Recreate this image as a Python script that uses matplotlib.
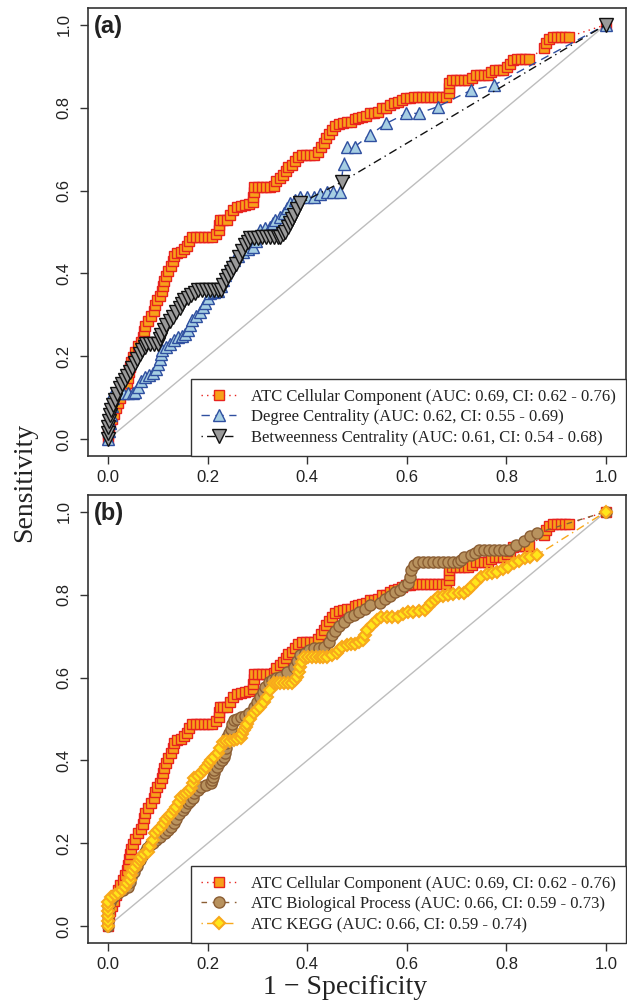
import matplotlib
matplotlib.use("Agg")
import matplotlib.pyplot as plt
import numpy as np
from matplotlib.lines import Line2D

# ROC points (1 - specificity, sensitivity)
cc_points = [
    (0.0, 0.0), (0.0, 0.012), (0.003, 0.025), (0.005, 0.037), (0.008, 0.05), (0.012, 0.062),
    (0.016, 0.075), (0.02, 0.087), (0.025, 0.1), (0.03, 0.112), (0.034, 0.124), (0.038, 0.137),
    (0.041, 0.149), (0.043, 0.162), (0.045, 0.174), (0.047, 0.187), (0.05, 0.199), (0.055, 0.211),
    (0.06, 0.224), (0.066, 0.236), (0.07, 0.248), (0.072, 0.261), (0.075, 0.273), (0.08, 0.286),
    (0.086, 0.298), (0.092, 0.31), (0.095, 0.323), (0.098, 0.335), (0.104, 0.345), (0.108, 0.358),
    (0.11, 0.37), (0.112, 0.382), (0.116, 0.395), (0.121, 0.405), (0.126, 0.418), (0.13, 0.43),
    (0.132, 0.442), (0.138, 0.45), (0.146, 0.452), (0.152, 0.458), (0.158, 0.466), (0.163, 0.478),
    (0.168, 0.489), (0.176, 0.489), (0.184, 0.489), (0.192, 0.489), (0.2, 0.489), (0.208, 0.489),
    (0.216, 0.495), (0.222, 0.505), (0.223, 0.517), (0.224, 0.529), (0.232, 0.529), (0.24, 0.53),
    (0.246, 0.54), (0.252, 0.552), (0.26, 0.561), (0.268, 0.563), (0.276, 0.565), (0.284, 0.567),
    (0.292, 0.573), (0.292, 0.585), (0.293, 0.597), (0.294, 0.609), (0.302, 0.609), (0.31, 0.609),
    (0.318, 0.609), (0.326, 0.609), (0.334, 0.612), (0.337, 0.622), (0.346, 0.629), (0.352, 0.637),
    (0.358, 0.647), (0.362, 0.656), (0.37, 0.662), (0.376, 0.672), (0.382, 0.68), (0.39, 0.686),
    (0.398, 0.686), (0.406, 0.686), (0.414, 0.686), (0.422, 0.694), (0.428, 0.704), (0.434, 0.714),
    (0.438, 0.726), (0.444, 0.736), (0.45, 0.746), (0.455, 0.756), (0.463, 0.76), (0.471, 0.762),
    (0.479, 0.764), (0.487, 0.766), (0.495, 0.772), (0.503, 0.774), (0.511, 0.778), (0.519, 0.78),
    (0.527, 0.786), (0.535, 0.786), (0.543, 0.79), (0.551, 0.798), (0.559, 0.798), (0.567, 0.806),
    (0.575, 0.812), (0.583, 0.814), (0.591, 0.818), (0.599, 0.822), (0.607, 0.824), (0.615, 0.826),
    (0.623, 0.826), (0.631, 0.826), (0.639, 0.826), (0.647, 0.826), (0.655, 0.826), (0.663, 0.826),
    (0.671, 0.826), (0.679, 0.826), (0.685, 0.834), (0.685, 0.846), (0.685, 0.858), (0.69, 0.866),
    (0.698, 0.866), (0.706, 0.866), (0.714, 0.866), (0.722, 0.866), (0.73, 0.872), (0.738, 0.878),
    (0.746, 0.878), (0.754, 0.878), (0.762, 0.878), (0.77, 0.886), (0.778, 0.89), (0.786, 0.89),
    (0.794, 0.89), (0.802, 0.898), (0.808, 0.906), (0.814, 0.914), (0.822, 0.918), (0.83, 0.918),
    (0.838, 0.918), (0.846, 0.918), (0.875, 0.943), (0.88, 0.955), (0.886, 0.965), (0.894, 0.971),
    (0.902, 0.971), (0.91, 0.971), (0.918, 0.971), (0.926, 0.971), (1.0, 1.0),
]

degree_points = [
    (0.0, 0.0), (0.002, 0.02), (0.004, 0.04), (0.006, 0.06), (0.008, 0.08), (0.01, 0.1),
    (0.011, 0.111), (0.02, 0.111), (0.03, 0.111), (0.04, 0.111), (0.05, 0.111), (0.054, 0.115),
    (0.06, 0.127), (0.066, 0.14), (0.074, 0.15), (0.082, 0.155), (0.09, 0.159), (0.097, 0.17),
    (0.1, 0.182), (0.104, 0.193), (0.106, 0.205), (0.108, 0.215), (0.116, 0.222), (0.124, 0.231),
    (0.132, 0.24), (0.14, 0.248), (0.148, 0.25), (0.154, 0.254), (0.16, 0.264), (0.165, 0.276),
    (0.168, 0.288), (0.176, 0.298), (0.184, 0.308), (0.19, 0.318), (0.195, 0.328), (0.2, 0.34),
    (0.204, 0.352), (0.212, 0.355), (0.22, 0.358), (0.226, 0.37), (0.23, 0.384), (0.236, 0.396),
    (0.24, 0.408), (0.246, 0.42), (0.253, 0.433), (0.262, 0.442), (0.272, 0.452), (0.282, 0.458),
    (0.292, 0.465), (0.298, 0.478), (0.302, 0.492), (0.306, 0.505), (0.316, 0.509), (0.326, 0.513),
    (0.331, 0.521), (0.336, 0.529), (0.345, 0.537), (0.353, 0.545), (0.36, 0.557), (0.366, 0.569),
    (0.376, 0.577), (0.386, 0.585), (0.399, 0.585), (0.413, 0.585), (0.426, 0.591), (0.439, 0.597),
    (0.452, 0.597), (0.466, 0.597), (0.473, 0.665), (0.479, 0.706), (0.496, 0.706), (0.526, 0.734),
    (0.559, 0.762), (0.599, 0.786), (0.624, 0.786), (0.662, 0.802), (0.729, 0.842), (0.775, 0.854),
    (1.0, 1.0),
]

betweenness_points = [
    (0.0, 0.0), (0.0, 0.015), (0.001, 0.03), (0.002, 0.045), (0.005, 0.058), (0.007, 0.071),
    (0.011, 0.083), (0.014, 0.095), (0.019, 0.109), (0.024, 0.123), (0.029, 0.133), (0.034, 0.143),
    (0.039, 0.153), (0.044, 0.163), (0.049, 0.173), (0.054, 0.183), (0.059, 0.195), (0.064, 0.207),
    (0.069, 0.215), (0.074, 0.223), (0.077, 0.231), (0.085, 0.231), (0.093, 0.231), (0.1, 0.231),
    (0.104, 0.242), (0.107, 0.252), (0.112, 0.264), (0.117, 0.276), (0.124, 0.286), (0.13, 0.296),
    (0.137, 0.306), (0.144, 0.316), (0.149, 0.326), (0.153, 0.336), (0.16, 0.342), (0.167, 0.348),
    (0.174, 0.354), (0.18, 0.36), (0.188, 0.36), (0.196, 0.36), (0.204, 0.36), (0.212, 0.36),
    (0.22, 0.36), (0.227, 0.36), (0.232, 0.372), (0.237, 0.384), (0.242, 0.394), (0.247, 0.404),
    (0.252, 0.414), (0.257, 0.424), (0.263, 0.44), (0.27, 0.455), (0.276, 0.469), (0.281, 0.477),
    (0.286, 0.485), (0.294, 0.486), (0.302, 0.486), (0.31, 0.487), (0.318, 0.487), (0.326, 0.488),
    (0.334, 0.488), (0.342, 0.489), (0.346, 0.489), (0.351, 0.495), (0.356, 0.501), (0.361, 0.511),
    (0.366, 0.521), (0.37, 0.531), (0.373, 0.541), (0.38, 0.555), (0.386, 0.569), (0.47, 0.621),
    (1.0, 1.0),
]

bp_points = [
    (0.0, 0.0), (0.0, 0.012), (0.001, 0.024), (0.001, 0.036), (0.001, 0.048), (0.004, 0.06),
    (0.01, 0.07), (0.02, 0.08), (0.03, 0.088), (0.041, 0.096), (0.044, 0.108), (0.047, 0.12),
    (0.053, 0.132), (0.058, 0.146), (0.064, 0.16), (0.069, 0.17), (0.074, 0.18), (0.079, 0.188),
    (0.084, 0.196), (0.09, 0.2), (0.097, 0.208), (0.105, 0.215), (0.114, 0.224), (0.12, 0.232),
    (0.127, 0.24), (0.132, 0.25), (0.137, 0.26), (0.143, 0.27), (0.15, 0.28), (0.155, 0.289),
    (0.16, 0.297), (0.165, 0.303), (0.17, 0.309), (0.173, 0.321), (0.18, 0.329), (0.187, 0.337),
    (0.197, 0.341), (0.207, 0.345), (0.208, 0.353), (0.21, 0.361), (0.212, 0.369), (0.213, 0.377),
    (0.218, 0.385), (0.223, 0.393), (0.228, 0.401), (0.233, 0.409), (0.235, 0.419), (0.237, 0.429),
    (0.238, 0.443), (0.24, 0.457), (0.244, 0.467), (0.247, 0.477), (0.25, 0.487), (0.253, 0.497),
    (0.26, 0.501), (0.267, 0.505), (0.275, 0.508), (0.283, 0.515), (0.293, 0.53), (0.3, 0.542),
    (0.306, 0.554), (0.311, 0.566), (0.316, 0.578), (0.323, 0.59), (0.33, 0.594), (0.338, 0.598),
    (0.346, 0.602), (0.36, 0.614), (0.373, 0.626), (0.38, 0.64), (0.386, 0.654), (0.395, 0.66),
    (0.404, 0.666), (0.413, 0.67), (0.423, 0.672), (0.433, 0.674), (0.443, 0.686), (0.449, 0.702),
    (0.456, 0.712), (0.463, 0.723), (0.473, 0.733), (0.483, 0.745), (0.493, 0.75), (0.505, 0.757),
    (0.516, 0.765), (0.527, 0.775), (0.546, 0.78), (0.556, 0.79), (0.566, 0.797), (0.576, 0.805),
    (0.586, 0.811), (0.594, 0.82), (0.602, 0.827), (0.606, 0.843), (0.609, 0.859), (0.614, 0.871),
    (0.622, 0.879), (0.632, 0.879), (0.642, 0.879), (0.652, 0.879), (0.662, 0.879), (0.672, 0.879),
    (0.682, 0.879), (0.692, 0.879), (0.702, 0.879), (0.708, 0.883), (0.715, 0.891), (0.728, 0.895),
    (0.737, 0.901), (0.745, 0.907), (0.755, 0.907), (0.765, 0.907), (0.775, 0.907), (0.785, 0.907),
    (0.795, 0.907), (0.805, 0.907), (0.82, 0.92), (0.835, 0.93), (0.848, 0.94), (0.861, 0.948),
    (1.0, 1.0),
]

kegg_points = [
    (0.0, 0.0), (0.0, 0.012), (0.0, 0.024), (0.0, 0.036), (0.001, 0.048), (0.001, 0.06),
    (0.007, 0.072), (0.014, 0.076), (0.021, 0.08), (0.028, 0.088), (0.034, 0.096), (0.039, 0.104),
    (0.044, 0.112), (0.047, 0.124), (0.05, 0.136), (0.055, 0.144), (0.06, 0.152), (0.064, 0.16),
    (0.067, 0.168), (0.073, 0.174), (0.08, 0.18), (0.085, 0.194), (0.09, 0.208), (0.094, 0.224),
    (0.1, 0.232), (0.107, 0.24), (0.112, 0.25), (0.117, 0.26), (0.122, 0.266), (0.127, 0.272),
    (0.132, 0.28), (0.137, 0.289), (0.142, 0.301), (0.147, 0.313), (0.152, 0.317), (0.157, 0.321),
    (0.162, 0.327), (0.167, 0.333), (0.17, 0.345), (0.173, 0.357), (0.18, 0.363), (0.187, 0.369),
    (0.192, 0.377), (0.197, 0.385), (0.202, 0.393), (0.207, 0.401), (0.213, 0.409), (0.22, 0.417),
    (0.225, 0.431), (0.23, 0.445), (0.238, 0.446), (0.246, 0.448), (0.253, 0.449), (0.26, 0.451),
    (0.267, 0.453), (0.27, 0.463), (0.273, 0.473), (0.277, 0.481), (0.28, 0.489), (0.286, 0.501),
    (0.293, 0.514), (0.3, 0.522), (0.306, 0.53), (0.313, 0.542), (0.32, 0.554), (0.326, 0.57),
    (0.333, 0.586), (0.34, 0.586), (0.346, 0.586), (0.354, 0.586), (0.362, 0.586), (0.37, 0.586),
    (0.375, 0.594), (0.379, 0.602), (0.383, 0.614), (0.386, 0.626), (0.39, 0.638), (0.393, 0.65),
    (0.401, 0.65), (0.409, 0.65), (0.417, 0.65), (0.425, 0.65), (0.432, 0.65), (0.439, 0.65),
    (0.449, 0.654), (0.459, 0.658), (0.463, 0.666), (0.469, 0.674), (0.479, 0.678), (0.488, 0.682),
    (0.496, 0.682), (0.505, 0.686), (0.513, 0.69), (0.516, 0.702), (0.52, 0.714), (0.53, 0.726),
    (0.54, 0.738), (0.549, 0.747), (0.56, 0.747), (0.571, 0.747), (0.582, 0.747), (0.592, 0.753),
    (0.602, 0.759), (0.612, 0.759), (0.624, 0.761), (0.636, 0.763), (0.642, 0.771), (0.649, 0.779),
    (0.656, 0.787), (0.662, 0.795), (0.672, 0.797), (0.682, 0.799), (0.692, 0.801), (0.704, 0.803),
    (0.715, 0.803), (0.722, 0.811), (0.728, 0.819), (0.738, 0.831), (0.749, 0.843), (0.76, 0.849),
    (0.771, 0.853), (0.782, 0.855), (0.793, 0.861), (0.804, 0.867), (0.815, 0.875), (0.826, 0.881),
    (0.837, 0.887), (0.848, 0.891), (0.861, 0.895), (1.0, 1.0),
]

cc_label = "ATC Cellular Component (AUC: 0.69, CI: 0.62 - 0.76)"
degree_label = "Degree Centrality (AUC: 0.62, CI: 0.55 - 0.69)"
betweenness_label = "Betweenness Centrality (AUC: 0.61, CI: 0.54 - 0.68)"
bp_label = "ATC Biological Process (AUC: 0.66, CI: 0.59 - 0.73)"
kegg_label = "ATC KEGG (AUC: 0.66, CI: 0.59 - 0.74)"

ticks = [0.0, 0.2, 0.4, 0.6, 0.8, 1.0]

SERIF = ["Liberation Serif", "DejaVu Serif"]
SANS = ["Liberation Sans", "DejaVu Sans"]

styles = {
    "cc": dict(marker="s", ms=7, mfc="#F7A11A", mec="#E8231E", mew=1.0,
               color="#E8231E", ls=(0, (1, 3)), lw=1.0),
    "degree": dict(marker="^", ms=9, mfc="#A6CEE3", mec="#2F4FA0", mew=1.0,
                   color="#2F4FA0", ls=(0, (6, 4)), lw=1.0),
    "betweenness": dict(marker="v", ms=9.5, mfc="#9A9A9A", mec="#111111", mew=1.0,
                        color="#111111", ls=(0, (1, 3, 6, 3)), lw=1.0),
    "bp": dict(marker="o", ms=8, mfc="#B8925E", mec="#8B5E34", mew=1.0,
               color="#8B5E34", ls=(0, (4, 4)), lw=1.0),
    "kegg": dict(marker="D", ms=6.5, mfc="#FFE61A", mec="#F8A81B", mew=1.5,
                 color="#F8A81B", ls=(0, (1, 3, 6, 3)), lw=1.0),
}


def draw_curve(ax, points, key):
    pts = np.array(points)
    ax.plot(pts[:, 0], pts[:, 1], **styles[key])


def style_axes(ax, tag):
    ax.set_xlim(-0.04, 1.04)
    ax.set_ylim(-0.04, 1.04)
    ax.plot([0, 1], [0, 1], color="#BDBDBD", lw=1.0, zorder=0)
    ax.set_xticks(ticks)
    ax.set_yticks(ticks)
    ax.set_xticklabels([f"{t:.1f}" for t in ticks], family=SANS, fontsize=12, color="#222222")
    ax.set_yticklabels([f"{t:.1f}" for t in ticks], family=SANS, fontsize=12, color="#222222",
                       rotation=90, va="center")
    ax.tick_params(direction="out", length=6, width=1.0, color="#333333", pad=4)
    ax.tick_params(axis="y", pad=6)
    for sp in ax.spines.values():
        sp.set_color("#333333")
        sp.set_linewidth(1.2)
    ax.text(0.01, 0.985, tag, transform=ax.transAxes, ha="left", va="top",
            fontsize=17, fontweight="bold", family=SANS, color="#222222")


def add_legend(ax, entries):
    handles = [Line2D([], [], **styles[k]) for k, _ in entries]
    labels = [lab for _, lab in entries]
    leg = ax.legend(handles, labels, loc="lower right", bbox_to_anchor=(1.0, 0.0),
                    borderaxespad=0.0, frameon=True, fancybox=False, framealpha=1.0,
                    edgecolor="#333333", handlelength=2.1, handletextpad=0.9,
                    labelspacing=0.28, borderpad=0.6, numpoints=1,
                    prop={"family": SERIF, "size": 12})
    leg.get_frame().set_linewidth(1.0)
    for t in leg.get_texts():
        t.set_color("#222222")


fig = plt.figure(figsize=(6.27, 10.01), dpi=100)
W, H = 627.0, 1001.0
ax_a = fig.add_axes([88 / W, 1 - 456 / H, 538 / W, 448 / H])
ax_b = fig.add_axes([88 / W, 1 - 943 / H, 538 / W, 448 / H])

style_axes(ax_a, "(a)")
draw_curve(ax_a, cc_points, "cc")
draw_curve(ax_a, degree_points, "degree")
draw_curve(ax_a, betweenness_points, "betweenness")
add_legend(ax_a, [("cc", cc_label), ("degree", degree_label),
                  ("betweenness", betweenness_label)])

style_axes(ax_b, "(b)")
draw_curve(ax_b, cc_points, "cc")
draw_curve(ax_b, bp_points, "bp")
draw_curve(ax_b, kegg_points, "kegg")
add_legend(ax_b, [("cc", cc_label), ("bp", bp_label), ("kegg", kegg_label)])

fig.text(25 / W, 1 - 482 / H, "Sensitivity", rotation=90, ha="center", va="center",
         family=SERIF, fontsize=20, color="#222222")
fig.text(345 / W, 1 - 987 / H, "1 \u2212 Specificity", ha="center", va="center",
         family=SERIF, fontsize=20, color="#222222")

fig.savefig("out.png", dpi=100, facecolor="white")
